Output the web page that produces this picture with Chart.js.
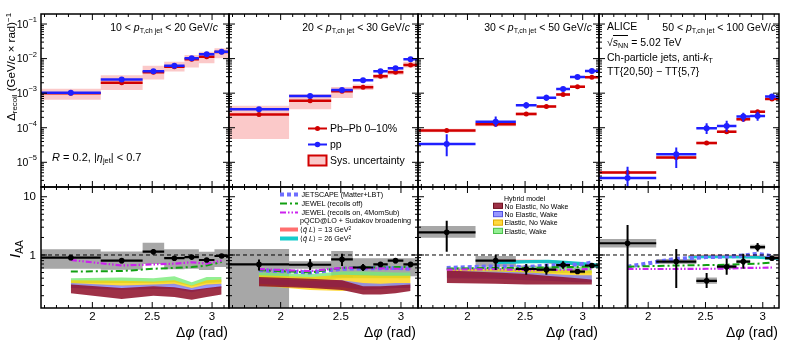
<!DOCTYPE html>
<html lang="en">
<head>
<meta charset="UTF-8">
<title>Recoil jet yield and I_AA vs delta phi</title>
<script src="https://cdn.jsdelivr.net/npm/chart.js"></script>
<style>
  body { margin: 0; background: #fff; }
  #fig { position: relative; width: 789px; height: 352px; overflow: hidden;
         font-family: "Liberation Sans", Arial, Helvetica, sans-serif; color: #000; }
  #fig canvas { position: absolute; left: 0; top: 0; }
  .t { position: absolute; white-space: nowrap; line-height: 1; }
  .t sub { font-size: 68%; position: relative; top: 0.3em; vertical-align: baseline; }
  .t sup { font-size: 68%; position: relative; top: -0.5em; vertical-align: baseline; }
  .ov { border-top: 1px solid #000; }
  .vt { transform: rotate(-90deg); transform-origin: 0 0; }
</style>
</head>
<body>
<div id="fig">
  <canvas id="c0" width="789" height="352"></canvas>
  <canvas id="c1" width="789" height="352"></canvas>
  <canvas id="c2" width="789" height="352"></canvas>
  <canvas id="c3" width="789" height="352"></canvas>
  <canvas id="c4" width="789" height="352"></canvas>
  <canvas id="c5" width="789" height="352"></canvas>
  <canvas id="c6" width="789" height="352"></canvas>
  <canvas id="c7" width="789" height="352"></canvas>
  <div class="t vt" style="font-size:11.5px; width:130px; text-align:right; left:6px; top:143px;">&Delta;<sub>recoil</sub> (GeV/<i>c</i> &times; rad)<sup>&minus;1</sup></div>
  <div class="t vt" style="font-size:15px; width:40px; text-align:center; left:6.5px; top:269px;"><i>I</i><sub>AA</sub></div>
</div>

<script>
const PI = Math.PI;

// Delta phi binning (same in all four pT intervals)
const binEdges = [PI / 2, 2.07, 2.42, 2.60, 2.77, 2.89, 3.02, PI];
const binCenters = [1.82, 2.245, 2.51, 2.685, 2.83, 2.955, 3.08];
const xMajor = [2, 2.5, 3];
const xMinor = [1.6, 1.7, 1.8, 1.9, 2.1, 2.2, 2.3, 2.4, 2.6, 2.7, 2.8, 2.9, 3.1];
const xTickLabels = ['2', '2.5', '3'];
const topDecades = [-1, -2, -3, -4, -5];
const bottomLabels = [1, 10];
const unity = 1;

// Delta_recoil, Pb-Pb 0-10% (one row per pT,ch jet interval)
const pbVal = [
  [1.0e-3, 2.0e-3, 4.0e-3, 5.8e-3, 9.5e-3, 1.14e-2, 1.55e-2],
  [2.4e-4, 6.0e-4, 1.13e-3, 1.48e-3, 3.1e-3, 4.0e-3, 6.5e-3],
  [8.3e-5, 1.26e-4, 2.5e-4, 4.1e-4, 9.1e-4, 1.54e-3, 2.9e-3],
  [5.1e-6, 1.37e-5, 3.6e-5, 7.7e-5, 1.76e-4, 2.9e-4, 6.8e-4]
];
const pbStatLo = [
  [0.95e-3, 1.9e-3, 3.8e-3, 5.5e-3, 9.0e-3, 1.08e-2, 1.47e-2],
  [2.2e-4, 5.6e-4, 1.06e-3, 1.4e-3, 2.9e-3, 3.8e-3, 6.2e-3],
  [7.9e-5, 1.19e-4, 2.36e-4, 3.9e-4, 8.6e-4, 1.46e-3, 2.75e-3],
  [4.8e-6, 1.28e-5, 3.4e-5, 7.2e-5, 1.66e-4, 2.7e-4, 6.4e-4]
];
const pbStatHi = [
  [1.05e-3, 2.1e-3, 4.2e-3, 6.1e-3, 1.0e-2, 1.2e-2, 1.63e-2],
  [2.6e-4, 6.4e-4, 1.2e-3, 1.56e-3, 3.3e-3, 4.2e-3, 6.8e-3],
  [8.7e-5, 1.33e-4, 2.64e-4, 4.3e-4, 9.6e-4, 1.62e-3, 3.05e-3],
  [5.4e-6, 1.46e-5, 3.8e-5, 8.2e-5, 1.86e-4, 3.1e-4, 7.2e-4]
];
const pbSysLo = [
  [6.4e-4, 1.23e-3, 2.5e-3, 4.2e-3, 5.5e-3, 7.3e-3, 1.02e-2],
  [4.7e-5, 3.4e-4, 7.2e-4, 1.24e-3, 2.63e-3, 3.4e-3, 5.5e-3],
  [7.4e-5, 1.1e-4, 2.25e-4, 3.7e-4, 8.3e-4, 1.4e-3, 2.65e-3],
  [4.7e-6, 1.25e-5, 3.3e-5, 7.0e-5, 1.62e-4, 2.65e-4, 6.3e-4]
];
const pbSysHi = [
  [1.35e-3, 3.3e-3, 6.2e-3, 8.1e-3, 1.27e-2, 1.58e-2, 2.0e-2],
  [4.3e-4, 9.3e-4, 1.5e-3, 1.77e-3, 3.6e-3, 4.9e-3, 8.1e-3],
  [9.3e-5, 1.45e-4, 2.8e-4, 4.55e-4, 1.0e-3, 1.7e-3, 3.2e-3],
  [5.5e-6, 1.5e-5, 3.9e-5, 8.4e-5, 1.9e-4, 3.15e-4, 7.3e-4]
];

// Delta_recoil, pp
const ppVal = [
  [1.03e-3, 2.5e-3, 4.3e-3, 6.2e-3, 1.02e-2, 1.33e-2, 1.58e-2],
  [3.4e-4, 8.3e-4, 1.24e-3, 2.36e-3, 4.3e-3, 5.25e-3, 9.5e-3],
  [3.4e-5, 1.5e-4, 4.46e-4, 7.4e-4, 1.32e-3, 2.95e-3, 4.4e-3],
  [3.5e-6, 1.7e-5, 9.7e-5, 1.13e-4, 2.1e-4, 2.2e-4, 8.0e-4]
];
const ppStatLo = [
  [0.93e-3, 2.25e-3, 3.9e-3, 5.6e-3, 9.3e-3, 1.2e-2, 1.45e-2],
  [2.9e-4, 7.4e-4, 1.12e-3, 2.15e-3, 3.9e-3, 4.8e-3, 8.7e-3],
  [1.5e-5, 1.07e-4, 3.6e-4, 6.0e-4, 1.15e-3, 2.65e-3, 4.0e-3],
  [1e-7, 6.8e-6, 6.6e-5, 7.6e-5, 1.5e-4, 1.6e-4, 6.3e-4]
];
const ppStatHi = [
  [1.14e-3, 2.75e-3, 4.7e-3, 6.8e-3, 1.12e-2, 1.47e-2, 1.73e-2],
  [3.9e-4, 9.2e-4, 1.37e-3, 2.6e-3, 4.7e-3, 5.7e-3, 1.04e-2],
  [6.5e-5, 2.1e-4, 5.5e-4, 9.0e-4, 1.52e-3, 3.3e-3, 4.9e-3],
  [7.4e-6, 2.66e-5, 1.35e-4, 1.6e-4, 2.7e-4, 2.9e-4, 9.3e-4]
];

// I_AA data
const iaaVal = [
  [0.90, 0.80, 1.14, 0.88, 0.92, 0.82, 0.96],
  [0.69, 0.68, 0.84, 0.61, 0.69, 0.80, 0.69],
  [2.45, 0.80, 0.575, 0.56, 0.67, 0.52, 0.66],
  [1.59, 0.77, 0.36, 0.63, 0.77, 1.36, 0.88]
];
const iaaStatLo = [
  [0.83, 0.72, 1.02, 0.81, 0.86, 0.76, 0.90],
  [0.54, 0.55, 0.65, 0.53, 0.62, 0.72, 0.64],
  [1.14, 0.55, 0.46, 0.46, 0.58, 0.49, 0.60],
  [0.05, 0.27, 0.27, 0.46, 0.58, 1.15, 0.80]
];
const iaaStatHi = [
  [0.98, 0.88, 1.27, 0.95, 0.99, 0.88, 1.02],
  [0.84, 0.85, 1.05, 0.70, 0.76, 0.88, 0.74],
  [3.88, 1.01, 0.70, 0.70, 0.78, 0.56, 0.72],
  [3.27, 1.27, 0.49, 0.87, 1.05, 1.60, 0.97]
];
const iaaSysLo = [
  [0.58, 0.56, 0.70, 0.57, 0.58, 0.55, 0.62],
  [0.10, 0.58, 0.41, 0.43, 0.43, 0.43, 0.43],
  [1.97, 0.63, 0.50, 0.50, 0.60, 0.47, 0.60],
  [1.35, 0.70, 0.32, 0.58, 0.72, 1.25, 0.82]
];
const iaaSysHi = [
  [1.25, 1.15, 1.62, 1.25, 1.25, 1.14, 1.25],
  [1.27, 0.78, 1.17, 0.88, 0.88, 0.88, 0.88],
  [3.14, 0.96, 0.66, 0.63, 0.74, 0.58, 0.72],
  [1.88, 0.85, 0.41, 0.68, 0.83, 1.50, 0.95]
];

// models, at the bin centres (null = not shown in that pT interval)
const jetscape = [null,
  [0.55, 0.50, 0.58, 0.59, 0.59, 0.60, 0.58],
  [0.60, 0.64, 0.62, 0.66, 0.67, 0.68, 0.74],
  [0.63, 0.86, 0.92, 0.94, 0.98, 1.05, 0.95]];
const jewelOff = [
  [0.52, 0.53, 0.58, 0.60, 0.62, 0.66, 0.76],
  [0.55, 0.50, 0.60, 0.62, 0.61, 0.62, 0.62],
  [0.58, 0.60, 0.60, 0.61, 0.62, 0.62, 0.64],
  [0.63, 0.66, 0.67, 0.68, 0.70, 0.71, 0.74]];
const jewelOn = [
  [0.82, 0.66, 0.69, 0.71, 0.75, 0.71, 0.80],
  [0.57, 0.53, 0.60, 0.60, 0.59, 0.58, 0.58],
  [0.56, 0.57, 0.55, 0.55, 0.56, 0.56, 0.58],
  [0.575, 0.575, 0.58, 0.58, 0.60, 0.60, 0.61]];

// Hybrid model bands (first three pT intervals)
const hybElWakeHi = [
  [0.40, 0.41, 0.40, 0.43, 0.34, 0.42, 0.42],
  [0.50, 0.47, 0.52, 0.52, 0.51, 0.50, 0.50],
  [0.62, 0.60, 0.62, 0.63, 0.63, 0.62, 0.62]];
const hybElWakeLo = [
  [0.33, 0.33, 0.33, 0.34, 0.29, 0.33, 0.34],
  [0.40, 0.37, 0.40, 0.40, 0.40, 0.40, 0.40],
  [0.48, 0.48, 0.48, 0.49, 0.49, 0.49, 0.48]];
const hybElNoWakeHi = [
  [0.37, 0.36, 0.35, 0.37, 0.30, 0.37, 0.38],
  [0.45, 0.42, 0.46, 0.45, 0.44, 0.44, 0.44],
  [0.58, 0.57, 0.57, 0.56, 0.55, 0.54, 0.54]];
const hybElNoWakeLo = [
  [0.30, 0.29, 0.29, 0.30, 0.26, 0.30, 0.31],
  [0.30, 0.25, 0.24, 0.26, 0.28, 0.30, 0.31],
  [0.42, 0.42, 0.41, 0.40, 0.40, 0.39, 0.39]];
const hybNoElWakeHi = [
  [0.33, 0.30, 0.31, 0.32, 0.27, 0.31, 0.32],
  [0.40, 0.36, 0.37, 0.33, 0.32, 0.33, 0.33],
  [0.53, 0.52, 0.50, 0.48, 0.46, 0.45, 0.45]];
const hybNoElWakeLo = [
  [0.27, 0.25, 0.26, 0.26, 0.23, 0.26, 0.27],
  [0.32, 0.28, 0.28, 0.25, 0.26, 0.27, 0.27],
  [0.40, 0.39, 0.37, 0.36, 0.35, 0.34, 0.34]];
const hybNoElNoWakeHi = [
  [0.31, 0.27, 0.29, 0.28, 0.25, 0.27, 0.29],
  [0.42, 0.39, 0.37, 0.29, 0.29, 0.30, 0.31],
  [0.54, 0.50, 0.47, 0.44, 0.42, 0.40, 0.38]];
const hybNoElNoWakeLo = [
  [0.22, 0.175, 0.20, 0.19, 0.17, 0.19, 0.21],
  [0.29, 0.27, 0.25, 0.21, 0.21, 0.22, 0.24],
  [0.33, 0.32, 0.31, 0.31, 0.31, 0.31, 0.31]];

// pQCD@LO + Sudakov broadening (last two pT intervals)
const pqcdX = [null, null,
  [2.25, 2.4, 2.55, 2.7, 2.85, 3.0, 3.14],
  [2.35, 2.5, 2.65, 2.8, 2.95, 3.05, 3.14]];
const qL13Hi = [null, null,
  [0.83, 0.83, 0.83, 0.82, 0.78, 0.73, 0.68],
  [1.00, 1.01, 1.01, 1.00, 0.98, 0.96, 0.95]];
const qL13Lo = [null, null,
  [0.74, 0.74, 0.74, 0.72, 0.68, 0.64, 0.60],
  [0.92, 0.93, 0.93, 0.92, 0.90, 0.88, 0.87]];
const qL26Hi = [null, null,
  [0.80, 0.81, 0.82, 0.83, 0.80, 0.76, 0.71],
  [0.97, 0.98, 0.98, 0.97, 0.96, 0.94, 0.93]];
const qL26Lo = [null, null,
  [0.70, 0.71, 0.72, 0.72, 0.69, 0.65, 0.60],
  [0.87, 0.88, 0.88, 0.87, 0.86, 0.84, 0.83]];

// ---- layout and styles ----
const colX = [[41, 229], [229, 418], [418, 599], [599, 779]];
const topRow = [14, 187];
const botRow = [187, 308];
const FONT = '"Liberation Sans", Arial, Helvetica, sans-serif';

const red = '#d10000';
const blue = '#1f1fff';
const sysPink = 'rgba(245,120,120,0.4)';
const sysGray = 'rgba(120,120,120,0.65)';
const clear = 'rgba(0,0,0,0)';
const cJetscape = '#6e6eff';
const cJewelOff = '#12a012';
const cJewelOn = '#cc22ee';
const cHyb = ['rgba(120,235,120,0.8)', 'rgba(255,205,0,0.75)', 'rgba(125,125,255,0.8)', 'rgba(145,20,45,0.88)'];
const cHybEdge = ['#4cc04c', '#e0a800', '#5050e0', '#70101e'];
const c13 = 'rgba(255,95,95,0.9)';
const c26 = 'rgba(0,200,200,0.92)';
const dashJetscape = [4, 3];
const dashJewelOff = [7, 3, 2, 3];
const dashJewelOn = [6, 2, 1.5, 2, 1.5, 2];

// ---- helpers turning the arrays into point lists ----
function steps(vals) {
  const out = [];
  vals.forEach((v, i) => out.push({ x: binEdges[i], y: v }, { x: binEdges[i + 1], y: v }));
  return out;
}
function hBars(vals) {
  const out = [];
  vals.forEach((v, i) => out.push({ x: binEdges[i], y: v }, { x: binEdges[i + 1], y: v }, { x: binEdges[i + 1], y: null }));
  return out;
}
function vBars(lo, hi) {
  const out = [];
  lo.forEach((l, i) => out.push({ x: binCenters[i], y: l }, { x: binCenters[i], y: hi[i] }, { x: binCenters[i], y: null }));
  return out;
}
function pts(xs, ys) {
  return ys.map((y, i) => ({ x: xs[i], y: y }));
}
function line(data, color, width, extra) {
  return Object.assign({ data: data, borderColor: color, borderWidth: width, pointRadius: 0,
    fill: false, clip: 0, spanGaps: false }, extra || {});
}
function marks(vals, color, r, order) {
  return { data: pts(binCenters, vals), showLine: false, pointRadius: r, pointBackgroundColor: color,
    pointBorderColor: color, pointBorderWidth: 0, clip: 0, order: order };
}
function band(xs, hi, lo, color, order) {
  return [
    line(pts(xs, hi), clear, 0, { fill: '+1', backgroundColor: color, order: order }),
    line(pts(xs, lo), clear, 0, { order: order })
  ];
}

function topDatasets(p) {
  return [
    line(steps(pbSysHi[p]), clear, 0, { fill: '+1', backgroundColor: sysPink, order: 30 }),
    line(steps(pbSysLo[p]), clear, 0, { order: 30 }),
    line(hBars(pbVal[p]), red, 2.5, { order: 12 }),
    line(vBars(pbStatLo[p], pbStatHi[p]), red, 2, { order: 12 }),
    marks(pbVal[p], red, 2.5, 11),
    line(hBars(ppVal[p]), blue, 2.5, { order: 6 }),
    line(vBars(ppStatLo[p], ppStatHi[p]), blue, 2, { order: 6 }),
    marks(ppVal[p], blue, 3, 5)
  ];
}

function bottomDatasets(p) {
  let ds = [
    line(steps(iaaSysHi[p]), clear, 0, { fill: '+1', backgroundColor: sysGray, order: 40 }),
    line(steps(iaaSysLo[p]), clear, 0, { order: 40 })
  ];
  if (p < 3) {
    ds = ds.concat(band(binCenters, hybElWakeHi[p], hybElWakeLo[p], cHyb[0], 36));
    ds = ds.concat(band(binCenters, hybElNoWakeHi[p], hybElNoWakeLo[p], cHyb[1], 35));
    ds = ds.concat(band(binCenters, hybNoElWakeHi[p], hybNoElWakeLo[p], cHyb[2], 34));
    ds = ds.concat(band(binCenters, hybNoElNoWakeHi[p], hybNoElNoWakeLo[p], cHyb[3], 33));
  }
  if (pqcdX[p]) {
    ds = ds.concat(band(pqcdX[p], qL13Hi[p], qL13Lo[p], c13, 32));
    ds = ds.concat(band(pqcdX[p], qL26Hi[p], qL26Lo[p], c26, 31));
  }
  if (jetscape[p]) ds.push(line(pts(binCenters, jetscape[p]), cJetscape, 4, { borderDash: dashJetscape, order: 22 }));
  ds.push(line(pts(binCenters, jewelOff[p]), cJewelOff, 2, { borderDash: dashJewelOff, order: 21 }));
  ds.push(line(pts(binCenters, jewelOn[p]), cJewelOn, 2.2, { borderDash: dashJewelOn, order: 20 }));
  ds.push(line([{ x: PI / 2, y: unity }, { x: PI, y: unity }], '#000', 1, { borderDash: [4, 3], order: 15 }));
  ds.push(line(hBars(iaaVal[p]), '#000', 2.2, { order: 6 }));
  ds.push(line(vBars(iaaStatLo[p], iaaStatHi[p]), '#000', 2, { order: 6 }));
  ds.push(marks(iaaVal[p], '#000', 2.8, 5));
  return ds;
}

// ---- ROOT-like frame: inward ticks on four sides, labels on outer panels ----
const rootAxes = {
  id: 'rootAxes',
  afterDatasetsDraw(chart, args, opts) {
    const ctx = chart.ctx, a = chart.chartArea;
    const xs = chart.scales.x, ys = chart.scales.y;
    ctx.save();
    ctx.strokeStyle = '#000';
    ctx.lineWidth = 1;
    ctx.setLineDash([]);
    ctx.beginPath();
    const xt = (v, len) => {
      const px = xs.getPixelForValue(v);
      ctx.moveTo(px, a.bottom); ctx.lineTo(px, a.bottom - len);
      ctx.moveTo(px, a.top); ctx.lineTo(px, a.top + len);
    };
    xMinor.forEach(v => xt(v, 3));
    xMajor.forEach(v => xt(v, 6));
    const k0 = Math.floor(Math.log10(ys.min)), k1 = Math.ceil(Math.log10(ys.max));
    for (let k = k0; k <= k1; k++) {
      for (let m = 1; m <= 9; m++) {
        const v = m * Math.pow(10, k);
        if (v < ys.min || v > ys.max) continue;
        const py = ys.getPixelForValue(v);
        const len = m === 1 ? 6 : 3;
        ctx.moveTo(a.left, py); ctx.lineTo(a.left + len, py);
        ctx.moveTo(a.right, py); ctx.lineTo(a.right - len, py);
      }
    }
    ctx.stroke();
    ctx.lineWidth = 1.5;
    ctx.strokeRect(a.left, a.top, a.right - a.left, a.bottom - a.top);

    ctx.fillStyle = '#000';
    if (opts.yLabels === 'exp') {
      topDecades.forEach(k => {
        const py = ys.getPixelForValue(Math.pow(10, k));
        const sup = '\u2212' + Math.abs(k);
        ctx.font = '7.5px ' + FONT;
        const w = ctx.measureText(sup).width;
        ctx.textAlign = 'right';
        ctx.textBaseline = 'middle';
        ctx.fillText(sup, a.left - 4, py - 4);
        ctx.font = '10.5px ' + FONT;
        ctx.fillText('10', a.left - 4 - w, py + 1);
      });
    } else if (opts.yLabels === 'plain') {
      ctx.font = '11.5px ' + FONT;
      ctx.textAlign = 'right';
      ctx.textBaseline = 'middle';
      bottomLabels.forEach(v => ctx.fillText(String(v), a.left - 5, ys.getPixelForValue(v) + 0.5));
    }
    if (opts.xLabels) {
      ctx.font = '11.5px ' + FONT;
      ctx.textAlign = 'center';
      ctx.textBaseline = 'middle';
      xMajor.forEach((v, i) => ctx.fillText(xTickLabels[i], xs.getPixelForValue(v), a.bottom + 9));
    }
    ctx.restore();
  }
};

// ---- legend swatches (positions are legend layout, not data) ----
const swatches = {
  id: 'swatches',
  afterDraw(chart, args, opts) {
    if (!opts.items) return;
    const ctx = chart.ctx;
    ctx.save();
    opts.items.forEach(it => {
      if (it.kind === 'line') {
        ctx.strokeStyle = it.color;
        ctx.lineWidth = it.width;
        ctx.setLineDash(it.dash || []);
        ctx.beginPath();
        ctx.moveTo(it.x0, it.y); ctx.lineTo(it.x1, it.y);
        ctx.stroke();
        if (it.marker) {
          ctx.setLineDash([]);
          ctx.fillStyle = it.color;
          ctx.beginPath();
          ctx.arc((it.x0 + it.x1) / 2, it.y, it.marker, 0, 2 * PI);
          ctx.fill();
        }
      } else {
        ctx.setLineDash([]);
        ctx.fillStyle = it.fill;
        ctx.fillRect(it.x0, it.y0, it.x1 - it.x0, it.y1 - it.y0);
        if (it.stroke) {
          ctx.strokeStyle = it.stroke;
          ctx.lineWidth = it.lw;
          ctx.strokeRect(it.x0, it.y0, it.x1 - it.x0, it.y1 - it.y0);
        }
      }
    });
    ctx.restore();
  }
};

const legendTop = [
  { kind: 'line', x0: 308, x1: 327, y: 128.5, color: red, width: 2, marker: 2.5 },
  { kind: 'line', x0: 308, x1: 327, y: 144.5, color: blue, width: 2, marker: 2.8 },
  { kind: 'box', x0: 308.5, y0: 155.5, x1: 326.5, y1: 165.5, fill: 'rgba(250,200,200,1)', stroke: red, lw: 2 }
];
const legendModels = [
  { kind: 'line', x0: 280, x1: 298, y: 194.5, color: cJetscape, width: 4, dash: dashJetscape },
  { kind: 'line', x0: 280, x1: 298, y: 203.5, color: cJewelOff, width: 2, dash: dashJewelOff },
  { kind: 'line', x0: 280, x1: 298, y: 212.5, color: cJewelOn, width: 2.2, dash: dashJewelOn },
  { kind: 'box', x0: 280, y0: 227.5, x1: 298, y1: 231.5, fill: c13 },
  { kind: 'box', x0: 280, y0: 236.5, x1: 298, y1: 240.5, fill: c26 }
];
const legendHybrid = [
  { kind: 'box', x0: 493.5, y0: 203.2, x1: 502.5, y1: 208.4, fill: cHyb[3], stroke: cHybEdge[3], lw: 1 },
  { kind: 'box', x0: 493.5, y0: 211.5, x1: 502.5, y1: 216.7, fill: cHyb[2], stroke: cHybEdge[2], lw: 1 },
  { kind: 'box', x0: 493.5, y0: 220.0, x1: 502.5, y1: 225.2, fill: cHyb[1], stroke: cHybEdge[1], lw: 1 },
  { kind: 'box', x0: 493.5, y0: 228.3, x1: 502.5, y1: 233.5, fill: cHyb[0], stroke: cHybEdge[0], lw: 1 }
];

function makeChart(id, xr, yr, yMin, yMax, datasets, axisOpts, legendItems) {
  return new Chart(document.getElementById(id), {
    type: 'line',
    data: { datasets: datasets },
    options: {
      responsive: false,
      animation: false,
      events: [],
      layout: { padding: { left: xr[0], right: 789 - xr[1], top: yr[0], bottom: 352 - yr[1] } },
      scales: {
        x: { type: 'linear', display: false, min: PI / 2, max: PI },
        y: { type: 'logarithmic', display: false, min: yMin, max: yMax }
      },
      elements: { line: { tension: 0 } },
      plugins: {
        legend: { display: false },
        tooltip: { enabled: false },
        rootAxes: axisOpts,
        swatches: { items: legendItems || null }
      }
    },
    plugins: [rootAxes, swatches]
  });
}

for (let p = 0; p < 4; p++) {
  makeChart('c' + p, colX[p], topRow, 1.93e-6, 0.195, topDatasets(p),
    { yLabels: p === 0 ? 'exp' : false, xLabels: false }, p === 1 ? legendTop : null);
  makeChart('c' + (p + 4), colX[p], botRow, 0.123, 14.7, bottomDatasets(p),
    { yLabels: p === 0 ? 'plain' : false, xLabels: true },
    p === 1 ? legendModels : (p === 2 ? legendHybrid : null));
}

// ---- text ----
const fig = document.getElementById('fig');
function addText(html, x, cy, size, align) {
  const d = document.createElement('div');
  d.className = 't';
  d.innerHTML = html;
  d.style.fontSize = size + 'px';
  d.style.top = (cy - 0.49 * size) + 'px';
  if (align === 'right') d.style.right = (789 - x) + 'px';
  else d.style.left = x + 'px';
  fig.appendChild(d);
}
const ptLabel = (lo, hi) => lo + ' &lt; <i>p</i><sub>T,ch jet</sub> &lt; ' + hi + ' GeV/<i>c</i>';
addText(ptLabel(10, 20), 218, 27, 10.5, 'right');
addText(ptLabel(20, 30), 410, 27, 10.5, 'right');
addText(ptLabel(30, 50), 592, 27, 10.5, 'right');
addText(ptLabel(50, 100), 776, 27, 10.5, 'right');
addText('ALICE', 607, 26, 10.5, 'left');
addText('&radic;<span class="ov"><i>s</i><sub>NN</sub></span> = 5.02 TeV', 607, 41.7, 10.5, 'left');
addText('Ch-particle jets, anti-<i>k</i><sub>T</sub>', 607, 56.7, 10.5, 'left');
addText('TT{20,50} &minus; TT{5,7}', 607, 71, 10.5, 'left');
addText('<i>R</i> = 0.2, |<i>&eta;</i><sub>jet</sub>| &lt; 0.7', 52, 157, 11, 'left');
addText('Pb&ndash;Pb 0&ndash;10%', 330, 128.3, 10.5, 'left');
addText('pp', 330, 144.3, 10.5, 'left');
addText('Sys. uncertainty', 330, 160, 10.5, 'left');
addText('JETSCAPE (Matter+LBT)', 301.5, 194.3, 7.2, 'left');
addText('JEWEL (recoils off)', 301.5, 203.3, 7.2, 'left');
addText('JEWEL (recoils on, 4MomSub)', 301.5, 212.3, 7.2, 'left');
addText('pQCD@LO + Sudakov broadening', 300, 220.5, 7.2, 'left');
addText('&lang;<i>q&#770;</i> <i>L</i>&rang; = 13 GeV<sup>2</sup>', 300, 229.5, 7.2, 'left');
addText('&lang;<i>q&#770;</i> <i>L</i>&rang; = 26 GeV<sup>2</sup>', 300, 238.5, 7.2, 'left');
addText('Hybrid model', 504, 198.3, 7, 'left');
addText('No Elastic, No Wake', 504.5, 206, 7, 'left');
addText('No Elastic, Wake', 504.5, 214.3, 7, 'left');
addText('Elastic, No Wake', 504.5, 222.8, 7, 'left');
addText('Elastic, Wake', 504.5, 231, 7, 'left');
[228, 416, 598, 778].forEach(x => addText('&Delta;<i>&phi;</i> (rad)', x, 332, 14, 'right'));
</script>
</body>
</html>
